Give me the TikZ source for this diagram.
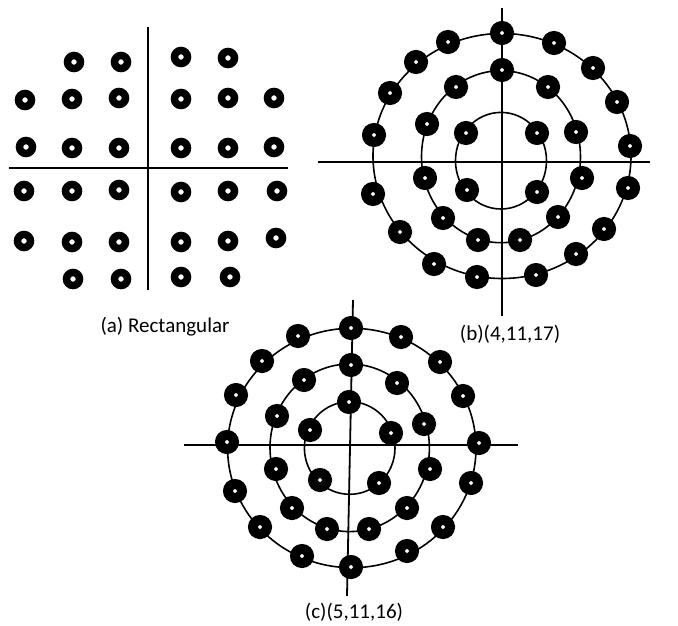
\documentclass[tikz,border=0pt]{standalone}
\usepackage{fontspec}
\setmainfont{Carlito}
\begin{document}
\begin{tikzpicture}[x=1pt,y=-1pt,
  axis/.style={line width=1.8pt},
  ring/.style={line width=1.6pt},
  dota/.style={circle,draw=black,fill=white,line width=7.5pt,minimum size=13pt,inner sep=0pt},
  dotb/.style={circle,draw=black,fill=white,line width=10pt,minimum size=14pt,inner sep=0pt},
  caption/.style={font=\fontsize{21}{25}\selectfont,inner sep=0pt}]
\useasboundingbox (0,0) rectangle (678,626);

% (a) rectangular grid
\draw[axis] (148,27) -- (148,290);
\draw[axis] (9,168) -- (288,168);
\foreach \u/\v [count=\i] in {
  74/62,121/62,181/57,228/58,
  25/100,72/99,119/98,181/99,228/98,274/98,
  26/147,72/148,119/148,181/148,228/148,274/147,
  24/191,72/191,119/190,181/192,228/191,277/191,
  24/241,72/242,119/242,181/242,228/241,276/238,
  73/279,121/279,181/277,230/277}
{ \node[dota] (a\i) at (\u,\v) {}; }
\node[caption] (capa) at (165,327) {(a) Rectangular};

% (b) rings of 4, 11 and 17
\draw[axis] (502,8) -- (502,316);
\draw[axis] (318,162) -- (650,162);
\draw[ring] (501,160.7) ellipse [x radius=45.5, y radius=48.3];
\draw[ring] (501,156.7) ellipse [x radius=79.5, y radius=86];
\draw[ring] (502,156) ellipse [x radius=129, y radius=122.5];
\foreach \u/\v [count=\i] in {
  466/133,537/133,467/190,537/192,
  502/70,456/87,548/87,427/124,576/132,425/178,582/178,443/218,558/217,478/240,520/240,
  502/33,554/43,448/42,416/62,593/68,390/93,617/102,374/135,630/146,373/194,628/188,
  400/232,604/229,434/264,576/254,477/277,536/275}
{ \node[dotb] (b\i) at (\u,\v) {}; }
\node[caption] (capb) at (510,334) {(b)(4,11,17)};

% (c) rings of 5, 11 and 16
\draw[axis] (353,300) -- (347,596);
\draw[axis] (184,445) -- (518,445);
\draw[ring] (349.7,448) ellipse [x radius=45.3, y radius=46.3];
\draw[ring] (349.7,447.8) ellipse [x radius=79.7, y radius=83.8];
\draw[ring] (351.8,448) ellipse [x radius=124.2, y radius=119.7];
\foreach \u/\v [count=\i] in {
  349/402,310/430,391/433,320/480,379/483,
  351/365,304/380,397/383,277/416,424/424,276/469,430/469,292/508,407/508,327/529,369/529,
  351/328,298/336,401/337,262/361,440/362,236/395,463/396,227/442,479/443,235/491,471/483,
  260/527,443/527,302/556,407/551,351/567}
{ \node[dotb] (c\i) at (\u,\v) {}; }
\node[caption] (capc) at (354,612) {(c)(5,11,16)};
\end{tikzpicture}
\end{document}
